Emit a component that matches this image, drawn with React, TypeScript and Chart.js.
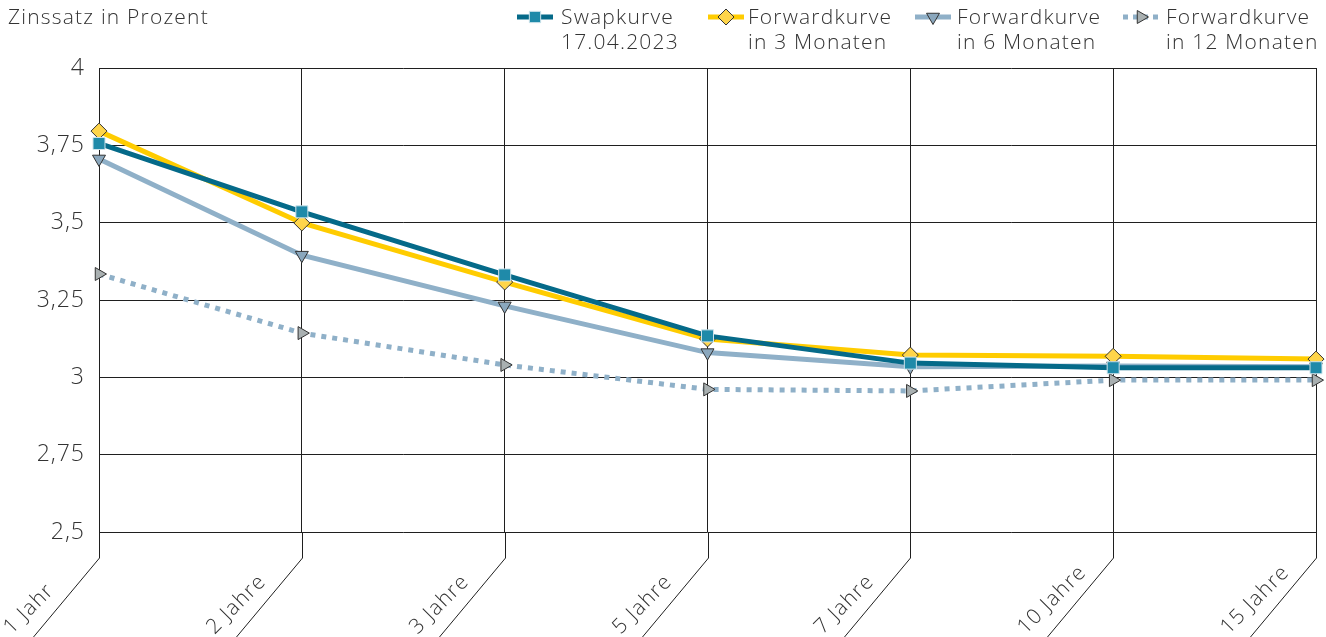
import React, { useEffect, useRef } from "react";
import { Chart, registerables } from "chart.js";
import { drawPoint } from "chart.js/helpers";

Chart.register(...registerables);

// Laufzeiten (Kategorien der x-Achse)
const maturities = ["1 Jahr", "2 Jahre", "3 Jahre", "5 Jahre", "7 Jahre", "10 Jahre", "15 Jahre"];

// Zinssätze in Prozent
const swapCurve = [3.756, 3.535, 3.331, 3.134, 3.046, 3.031, 3.031];
const forward3M = [3.796, 3.499, 3.308, 3.124, 3.072, 3.068, 3.059];
const forward6M = [3.706, 3.395, 3.231, 3.080, 3.034, 3.037, 3.034];
const forward12M = [3.334, 3.143, 3.040, 2.961, 2.956, 2.991, 2.991];

// y-Achse
const yTicks = [2.5, 2.75, 3, 3.25, 3.5, 3.75, 4];
const yTickLabels = ["2,5", "2,75", "3", "3,25", "3,5", "3,75", "4"];
const axisTitle = "Zinssatz in Prozent";

// Legendentexte (zweizeilig)
const legendSwap = ["Swapkurve", "17.04.2023"];
const legend3M = ["Forwardkurve", "in 3 Monaten"];
const legend6M = ["Forwardkurve", "in 6 Monaten"];
const legend12M = ["Forwardkurve", "in 12 Monaten"];

const FONT = "'Open Sans', 'Liberation Sans', Arial, sans-serif";
const LABEL_FONT = `300 21px ${FONT}`;
const SPACING = "1.2px";
const TEXT = "#333333";
const GRID = "#1f1f1f";

const TEAL = "#056a89";
const TEAL_MARK = "#1f8aa9";
const YELLOW = "#ffcc00";
const YELLOW_MARK = "#ffd54a";
const STEEL = "#8fb0c8";
const STEEL_MARK = "#8aa7bd";
const GREY_MARK = "#a9b0b1";

type LegendItem = {
  lines: string[];
  color: string;
  dash: number[];
  style: string;
  rotation: number;
  radius: number;
  fill: string;
  stroke: string;
  iconX: number;
  textX: number;
};

const legendItems: LegendItem[] = [
  { lines: legendSwap, color: TEAL, dash: [], style: "rect", rotation: 0, radius: 8, fill: TEAL_MARK, stroke: "#cfe4ec", iconX: 535, textX: 561 },
  { lines: legend3M, color: YELLOW, dash: [], style: "rectRot", rotation: 0, radius: 8, fill: YELLOW_MARK, stroke: "#333333", iconX: 726, textX: 748 },
  { lines: legend6M, color: STEEL, dash: [], style: "triangle", rotation: 180, radius: 7.5, fill: STEEL_MARK, stroke: "#333333", iconX: 933, textX: 957 },
  { lines: legend12M, color: STEEL, dash: [5, 5], style: "triangle", rotation: 90, radius: 7.5, fill: GREY_MARK, stroke: "#333333", iconX: 1141, textX: 1166 },
];

const overlayPlugin = {
  id: "overlay",
  beforeDraw(chart: any) {
    // etwas weiter laufende Schrift auch für die Achsenbeschriftung
    (chart.ctx as any).letterSpacing = "1px";
  },
  afterDraw(chart: any) {
    const ctx: CanvasRenderingContext2D = chart.ctx;
    const xs = chart.scales.x;
    const area = chart.chartArea;
    ctx.save();
    (ctx as any).letterSpacing = SPACING;

    // Achsentitel
    ctx.fillStyle = TEXT;
    ctx.font = LABEL_FONT;
    ctx.textAlign = "left";
    ctx.textBaseline = "middle";
    ctx.fillText(axisTitle, 8, 18);

    // Legende
    legendItems.forEach((item) => {
      const cy = 17;
      ctx.save();
      ctx.strokeStyle = item.color;
      ctx.lineWidth = 5;
      ctx.setLineDash(item.dash);
      ctx.beginPath();
      ctx.moveTo(item.iconX - 18, cy);
      ctx.lineTo(item.iconX + 18, cy);
      ctx.stroke();
      ctx.setLineDash([]);
      ctx.fillStyle = item.fill;
      ctx.strokeStyle = item.stroke;
      ctx.lineWidth = 1;
      drawPoint(ctx, { pointStyle: item.style as any, rotation: item.rotation, radius: item.radius, borderWidth: 1 }, item.iconX, cy);
      ctx.restore();
      ctx.fillStyle = TEXT;
      ctx.font = LABEL_FONT;
      ctx.textAlign = "left";
      ctx.textBaseline = "middle";
      item.lines.forEach((t, i) => ctx.fillText(t, item.textX, 18 + i * 25));
    });

    // Verlängerte Gitterlinien mit schrägen Beschriftungen
    const drop = 26;
    const run = 66;
    const fall = 79;
    ctx.strokeStyle = GRID;
    ctx.lineWidth = 1;
    ctx.font = LABEL_FONT;
    ctx.fillStyle = TEXT;
    ctx.textAlign = "left";
    ctx.textBaseline = "alphabetic";
    maturities.forEach((label, i) => {
      const x = Math.round(xs.getPixelForTick(i)) + 0.5;
      const y0 = Math.round(area.bottom);
      ctx.beginPath();
      ctx.moveTo(x, y0);
      ctx.lineTo(x, y0 + drop);
      ctx.lineTo(x - run, y0 + drop + fall);
      ctx.stroke();
      ctx.save();
      ctx.translate(x - 88, y0 + drop + 77);
      ctx.rotate(-Math.PI / 4);
      ctx.fillText(label, 0, 0);
      ctx.restore();
    });
    ctx.restore();
  },
};

export default function App() {
  const canvasRef = useRef<HTMLCanvasElement | null>(null);

  useEffect(() => {
    if (!canvasRef.current) return;
    const chart = new Chart(canvasRef.current, {
      type: "line",
      data: {
        labels: maturities,
        datasets: [
          {
            label: legendSwap.join(" "),
            data: swapCurve,
            borderColor: TEAL,
            borderWidth: 5,
            pointStyle: "rect",
            pointRadius: 8.5,
            pointBackgroundColor: TEAL_MARK,
            pointBorderColor: "#cfe4ec",
            pointBorderWidth: 1,
            order: 0,
          },
          {
            label: legend3M.join(" "),
            data: forward3M,
            borderColor: YELLOW,
            borderWidth: 5,
            pointStyle: "rectRot",
            pointRadius: 8,
            pointBackgroundColor: YELLOW_MARK,
            pointBorderColor: "#333333",
            pointBorderWidth: 1,
            order: 2,
          },
          {
            label: legend6M.join(" "),
            data: forward6M,
            borderColor: STEEL,
            borderWidth: 5,
            pointStyle: "triangle",
            pointRotation: 180,
            pointRadius: 7.5,
            pointBackgroundColor: STEEL_MARK,
            pointBorderColor: "#333333",
            pointBorderWidth: 1,
            order: 1,
          },
          {
            label: legend12M.join(" "),
            data: forward12M,
            borderColor: STEEL,
            borderWidth: 5,
            borderDash: [5, 6],
            borderCapStyle: "butt",
            pointStyle: "triangle",
            pointRotation: 90,
            pointRadius: 7.5,
            pointBackgroundColor: GREY_MARK,
            pointBorderColor: "#333333",
            pointBorderWidth: 1,
            order: 3,
          },
        ],
      },
      options: {
        responsive: false,
        animation: false,
        layout: { padding: { top: 68, right: 10, left: 0, bottom: 0 } },
        plugins: { legend: { display: false }, tooltip: { enabled: false } },
        elements: { line: { tension: 0 } },
        scales: {
          x: {
            type: "category",
            offset: false,
            grid: { color: GRID, lineWidth: 1, drawTicks: false },
            border: { display: false },
            ticks: { display: false },
            afterFit: (s: any) => {
              s.height = 105;
            },
          },
          y: {
            min: 2.5,
            max: 4,
            grid: { color: GRID, lineWidth: 1, drawTicks: false },
            border: { display: false },
            afterBuildTicks: (s: any) => {
              s.ticks = yTicks.map((v) => ({ value: v }));
            },
            ticks: {
              padding: 14,
              color: TEXT,
              font: { family: FONT, size: 23, weight: "300" as any },
              callback: (v: any) => {
                const i = yTicks.indexOf(Number(v));
                return i >= 0 ? yTickLabels[i] : "";
              },
            },
            afterFit: (s: any) => {
              s.width = 99;
            },
          },
        },
      },
      plugins: [overlayPlugin],
    });
    return () => chart.destroy();
  }, []);

  return (
    <div style={{ position: "absolute", left: 0, top: 0, width: 1326, height: 637, background: "#ffffff" }}>
      <canvas ref={canvasRef} width={1326} height={637} style={{ display: "block" }} />
    </div>
  );
}
